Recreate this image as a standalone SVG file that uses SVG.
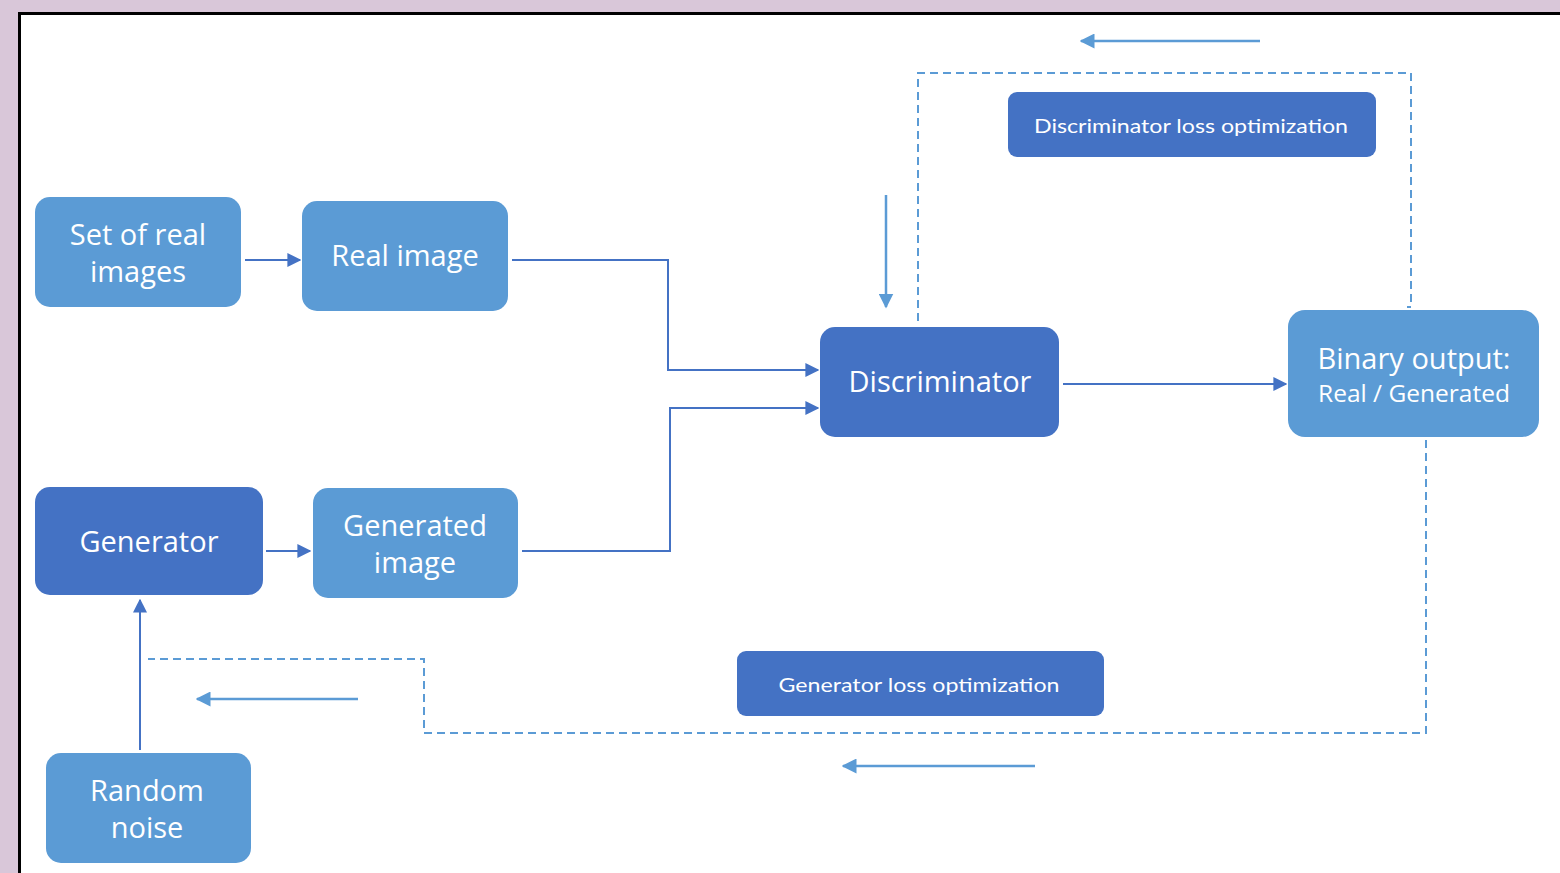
<svg xmlns="http://www.w3.org/2000/svg" width="1560" height="873" viewBox="0 0 1560 873">
  <style>
    .light { fill: #5b9bd5; }
    .dark { fill: #4472c4; }
    .lbl { font-family: "Open Sans", "Noto Sans", sans-serif; font-size: 29px; font-weight: 500; fill: #ffffff; text-anchor: middle; }
    .small { font-family: Lato, "Open Sans", sans-serif; font-size: 20px; fill: #ffffff; text-anchor: middle; }
    .flow { fill: none; stroke: #4472c4; stroke-width: 2; }
    .back { fill: none; stroke: #5b9bd5; stroke-width: 2.5; }
    .dash { fill: none; stroke: #5b9bd5; stroke-width: 2; stroke-dasharray: 8 5; }
  </style>
  <defs>
    <marker id="ah" viewBox="0 0 10 10" refX="9" refY="5" markerWidth="7" markerHeight="7" orient="auto" markerUnits="strokeWidth">
      <path d="M0,0 L10,5 L0,10 z" fill="#4472c4"/>
    </marker>
    <marker id="ahl" viewBox="0 0 10 10" refX="9" refY="5" markerWidth="6" markerHeight="6" orient="auto" markerUnits="strokeWidth">
      <path d="M0,0 L10,5 L0,10 z" fill="#5b9bd5"/>
    </marker>
  </defs>

  <!-- page background and frame -->
  <rect x="0" y="0" width="1560" height="873" fill="#d9c7d9"/>
  <rect x="19.5" y="13.5" width="1560" height="880" fill="#ffffff" stroke="#000000" stroke-width="3"/>

  <!-- connectors -->
  <g id="connectors">
    <path class="flow" d="M245,260 H300" marker-end="url(#ah)"/>
    <path class="flow" d="M512,260 H668 V370 H818" marker-end="url(#ah)"/>
    <path class="flow" d="M522,551 H670 V408 H818" marker-end="url(#ah)"/>
    <path class="flow" d="M1063,384 H1286" marker-end="url(#ah)"/>
    <path class="flow" d="M266,551 H310" marker-end="url(#ah)"/>
    <path class="flow" d="M140,750 V600" marker-end="url(#ah)"/>

    <!-- discriminator feedback loop -->
    <path class="dash" d="M918,321 V73 H1411 V307 H1407"/>
    <path class="back" d="M886,195 V307" marker-end="url(#ahl)"/>
    <path class="back" d="M1260,41 H1081" marker-end="url(#ahl)"/>

    <!-- generator feedback loop -->
    <path class="dash" d="M1426,440 V733 H424 V659 H148"/>
    <path class="back" d="M358,699 H197" marker-end="url(#ahl)"/>
    <path class="back" d="M1035,766 H843" marker-end="url(#ahl)"/>
  </g>

  <!-- nodes -->
  <g id="set-of-real-images">
    <rect class="light" x="35" y="197" width="206" height="110" rx="15"/>
    <text class="lbl" x="138" y="245">Set of real</text>
    <text class="lbl" x="138" y="282">images</text>
  </g>
  <g id="real-image">
    <rect class="light" x="302" y="201" width="206" height="110" rx="15"/>
    <text class="lbl" x="405" y="266">Real image</text>
  </g>
  <g id="discriminator">
    <rect class="dark" x="820" y="327" width="239" height="110" rx="15"/>
    <text class="lbl" x="940" y="392">Discriminator</text>
  </g>
  <g id="binary-output">
    <rect class="light" x="1288" y="310" width="251" height="127" rx="17"/>
    <text class="lbl" x="1414" y="369">Binary output:</text>
    <text class="lbl" x="1414" y="402" style="font-size:24.5px">Real / Generated</text>
  </g>
  <g id="discriminator-loss">
    <rect class="dark" x="1008" y="92" width="368" height="65" rx="9"/>
    <text class="small" x="1191" y="133" textLength="314" lengthAdjust="spacingAndGlyphs">Discriminator loss optimization</text>
  </g>
  <g id="generator">
    <rect class="dark" x="35" y="487" width="228" height="108" rx="15"/>
    <text class="lbl" x="149" y="552">Generator</text>
  </g>
  <g id="generated-image">
    <rect class="light" x="313" y="488" width="205" height="110" rx="15"/>
    <text class="lbl" x="415" y="536">Generated</text>
    <text class="lbl" x="415" y="573">image</text>
  </g>
  <g id="random-noise">
    <rect class="light" x="46" y="753" width="205" height="110" rx="15"/>
    <text class="lbl" x="147" y="801">Random</text>
    <text class="lbl" x="147" y="838">noise</text>
  </g>
  <g id="generator-loss">
    <rect class="dark" x="737" y="651" width="367" height="65" rx="9"/>
    <text class="small" x="919" y="692" textLength="281" lengthAdjust="spacingAndGlyphs">Generator loss optimization</text>
  </g>
</svg>
